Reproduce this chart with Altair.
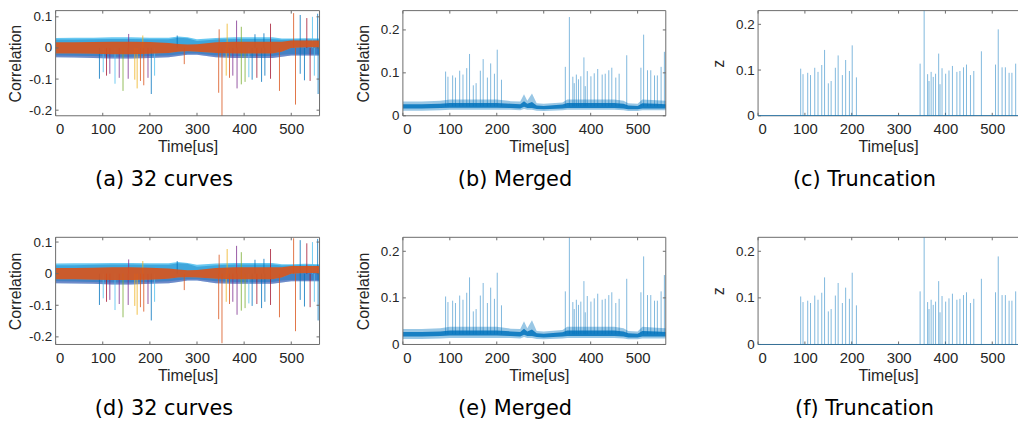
import altair as alt
import pandas as pd

# ---------------- data ----------------
TIME_MAX = 560
X_TICKS = [0, 100, 200, 300, 400, 500]
CORR_TICKS = [-0.2, -0.1, 0, 0.1]
POS_TICKS = [0, 0.1, 0.2]

COLOR_NAMES = ["blue", "orange", "yellow", "purple", "green", "cyan", "red"]
COLOR_HEX = ["#0072BD", "#D95319", "#EDB120", "#7E2F8E", "#77AC30", "#4DBEEE", "#A2142F"]

# envelope of the 32 overlaid curves
ENV_T = [0, 40, 80, 120, 160, 200, 240, 260, 280, 300, 340, 380, 420, 460, 480, 500, 530, 560]
OUT_HI = [0.032, 0.033, 0.033, 0.034, 0.034, 0.033, 0.033, 0.037, 0.034, 0.028, 0.032, 0.034, 0.034, 0.034, 0.030, 0.030, 0.031, 0.030]
OUT_LO = [-0.030, -0.031, -0.032, -0.034, -0.034, -0.032, -0.030, -0.026, -0.022, -0.022, -0.030, -0.032, -0.032, -0.032, -0.028, -0.024, -0.024, -0.024]
BLU_HI = [0.027, 0.027, 0.028, 0.029, 0.029, 0.028, 0.028, 0.033, 0.031, 0.022, 0.027, 0.029, 0.029, 0.029, 0.026, 0.027, 0.027, 0.027]
BLU_LO = [-0.024, -0.025, -0.026, -0.028, -0.028, -0.026, -0.024, -0.021, -0.018, -0.018, -0.024, -0.026, -0.026, -0.026, -0.022, -0.020, -0.020, -0.020]
CORE_HI = [0.018, 0.018, 0.019, 0.020, 0.020, 0.019, 0.016, 0.013, 0.011, 0.012, 0.018, 0.020, 0.020, 0.020, 0.020, 0.024, 0.024, 0.024]
CORE_LO = [-0.018, -0.018, -0.019, -0.020, -0.020, -0.019, -0.016, -0.012, -0.011, -0.012, -0.016, -0.018, -0.018, -0.018, -0.012, 0.000, 0.002, 0.002]

# individual spikes of the 32 curves
SPK32_T = [93, 101, 108, 115, 126, 135, 143, 154, 168, 173, 180, 187, 196, 203, 210, 155, 185, 258, 273,
           346, 353, 362, 369, 376, 385, 394, 402, 410, 417, 427, 437, 444, 456, 475, 509, 519, 528, 540, 549, 557,
           347, 364, 384, 394, 423, 442, 456, 505, 519, 533, 545, 556]
SPK32_V = [-0.099, -0.078, -0.089, -0.083, -0.115, -0.096, -0.138, -0.099, -0.102, -0.130, -0.106, -0.120, -0.096, -0.148, -0.089, 0.045, 0.040, 0.040, -0.052,
           -0.144, -0.220, -0.089, -0.096, -0.089, -0.130, -0.117, -0.109, -0.094, -0.102, -0.096, -0.109, -0.089, -0.099, -0.138, -0.182, -0.083, -0.104, -0.106, -0.089, -0.148,
           0.060, 0.078, 0.088, 0.068, 0.044, 0.047, 0.078, 0.112, 0.106, 0.096, 0.100, 0.110]
SPK32_C = ["blue", "cyan", "red", "purple", "cyan", "purple", "green", "purple", "yellow", "yellow", "orange", "orange", "purple", "blue", "cyan", "purple", "yellow", "blue", "orange",
           "orange", "orange", "yellow", "orange", "purple", "purple", "green", "green", "cyan", "blue", "red", "blue", "blue", "red", "orange", "orange", "blue", "blue", "red", "cyan", "blue",
           "orange", "yellow", "purple", "green", "blue", "blue", "red", "orange", "blue", "red", "cyan", "blue"]

# merged curve: noise floor band
MB_T = [0, 40, 80, 100, 150, 200, 230, 250, 258, 265, 275, 285, 300, 340, 350, 400, 450, 470, 480, 500, 510, 540, 560]
MB_HI = [0.033, 0.033, 0.035, 0.038, 0.038, 0.038, 0.034, 0.033, 0.050, 0.035, 0.052, 0.029, 0.028, 0.031, 0.038, 0.038, 0.038, 0.035, 0.029, 0.028, 0.038, 0.036, 0.035]
MB_LO = [0.012, 0.012, 0.013, 0.014, 0.014, 0.014, 0.014, 0.013, 0.016, 0.014, 0.014, 0.012, 0.011, 0.013, 0.014, 0.014, 0.014, 0.013, 0.011, 0.011, 0.013, 0.013, 0.013]
MC_HI = [0.027, 0.027, 0.028, 0.030, 0.030, 0.030, 0.028, 0.027, 0.034, 0.028, 0.032, 0.024, 0.023, 0.026, 0.030, 0.030, 0.030, 0.028, 0.024, 0.023, 0.029, 0.028, 0.027]
MC_LO = [0.017, 0.017, 0.018, 0.019, 0.019, 0.019, 0.018, 0.017, 0.021, 0.018, 0.018, 0.016, 0.015, 0.017, 0.018, 0.018, 0.018, 0.017, 0.015, 0.015, 0.017, 0.017, 0.017]
MERGED_FLOOR = 0.022

# peaks kept after truncation (also visible in merged curve)
PEAK_T = [91, 96, 106, 112, 121, 128, 136, 142, 150, 156, 165, 171, 180, 187, 195, 201, 210,
          346, 354.6, 362, 365, 369.5, 374, 379, 385.6, 388.5, 392.8, 400.5, 407.6, 415, 424.5, 431, 438.6, 445, 453.5, 460.6, 476.8,
          507, 512.8, 521, 528, 536, 542, 550, 557]
PEAK_Z = [0.103, 0.091, 0.094, 0.089, 0.105, 0.096, 0.111, 0.144, 0.071, 0.076, 0.105, 0.132, 0.089, 0.122, 0.098, 0.154, 0.084,
          0.114, 0.230, 0.091, 0.076, 0.096, 0.085, 0.092, 0.136, 0.069, 0.104, 0.092, 0.099, 0.109, 0.096, 0.098, 0.106, 0.112, 0.089, 0.098, 0.141,
          0.112, 0.189, 0.106, 0.106, 0.094, 0.094, 0.114, 0.149]
TRUNC_BASE_T = [0, TIME_MAX]
TRUNC_BASE_Z = [0, 0]

# ---------------- style ----------------
AX = "#6b6b6b"
TXT = "#262626"
TICK_FONT = "Liberation Sans"
CAP_FONT = "DejaVu Sans"
YLABEL = "replace(format(datum.value, '~g'), '\u2212', '-')"


def xaxis():
    return alt.Axis(values=X_TICKS, title="Time[us]", tickSize=0, domain=False, grid=False,
                    labelPadding=6, titlePadding=2, labelFontSize=15, titleFontSize=16,
                    labelColor=TXT, titleColor=TXT, labelFont=TICK_FONT, titleFont=TICK_FONT,
                    titleFontWeight="normal", format="d")


def yaxis(vals, title):
    return alt.Axis(values=vals, title=title, tickSize=0, domain=False, grid=False,
                    labelPadding=4, minExtent=28, maxExtent=28, titlePadding=4,
                    labelFontSize=13.5, titleFontSize=16, labelColor=TXT, titleColor=TXT,
                    labelFont=TICK_FONT, titleFont=TICK_FONT, titleFontWeight="normal",
                    labelExpr=YLABEL)


def make_enc(xdom, ydom, yvals, ytitle):
    def X(field):
        return alt.X(f"{field}:Q", scale=alt.Scale(domain=xdom, nice=False, zero=False), axis=xaxis())

    def Y(field):
        return alt.Y(f"{field}:Q", scale=alt.Scale(domain=ydom, nice=False, zero=False), axis=yaxis(yvals, ytitle))

    def Y2(field):
        return alt.Y2(f"{field}:Q")
    return X, Y, Y2


def frame_layers(X, Y, yvals, wf, h, right=True):
    xt = pd.DataFrame({"tk": X_TICKS})
    yt = pd.DataFrame({"vk": yvals})
    dummy = pd.DataFrame({"d": [0]})
    layers = [
        alt.Chart(xt).mark_rule(color=AX, strokeWidth=1).encode(x=X("tk"), y=alt.value(h), y2=alt.value(h - 3)),
        alt.Chart(xt).mark_rule(color=AX, strokeWidth=1).encode(x=X("tk"), y=alt.value(0), y2=alt.value(3)),
        alt.Chart(yt).mark_rule(color=AX, strokeWidth=1).encode(y=Y("vk"), x=alt.value(0), x2=alt.value(3)),
    ]
    if right:
        layers.append(alt.Chart(yt).mark_rule(color=AX, strokeWidth=1).encode(y=Y("vk"), x=alt.value(wf - 3), x2=alt.value(wf)))
        layers.append(alt.Chart(dummy).mark_rect(fillOpacity=0, stroke=AX, strokeWidth=1).encode(
            x=alt.value(0), x2=alt.value(wf), y=alt.value(0), y2=alt.value(h)))
    else:
        layers.append(alt.Chart(dummy).mark_rule(color=AX, strokeWidth=1).encode(x=alt.value(0), x2=alt.value(wf), y=alt.value(0)))
        layers.append(alt.Chart(dummy).mark_rule(color=AX, strokeWidth=1).encode(x=alt.value(0), x2=alt.value(wf), y=alt.value(h)))
        layers.append(alt.Chart(dummy).mark_rule(color=AX, strokeWidth=1).encode(x=alt.value(0), y=alt.value(0), y2=alt.value(h)))
    return layers


def caption(text):
    return alt.TitleParams(text=text, orient="bottom", anchor="middle", frame="bounds", font=CAP_FONT,
                           fontSize=21, fontWeight="normal", color="#000000", offset=15)


def panel_curves(h, ydom, cap):
    W = 266
    X, Y, Y2 = make_enc([0, TIME_MAX], ydom, CORR_TICKS, "Correlation")
    env = pd.DataFrame({"t": ENV_T, "olo": OUT_LO, "ohi": OUT_HI, "blo": BLU_LO, "bhi": BLU_HI,
                        "clo": CORE_LO, "chi": CORE_HI})
    spk = pd.DataFrame({"t": SPK32_T, "v": SPK32_V, "c": SPK32_C, "base": [0.0] * len(SPK32_T)})
    col = alt.Color("c:N", scale=alt.Scale(domain=COLOR_NAMES, range=COLOR_HEX), legend=None)
    layers = [
        alt.Chart(env).mark_area(color="#4DBEEE", opacity=0.85, clip=True).encode(x=X("t"), y=Y("olo"), y2=Y2("ohi")),
        alt.Chart(env).mark_area(color="#7E2F8E", opacity=0.4, clip=True).encode(x=X("t"), y=Y("olo"), y2=Y2("clo")),
        alt.Chart(env).mark_area(color="#0072BD", opacity=0.4, clip=True).encode(x=X("t"), y=Y("blo"), y2=Y2("bhi")),
        alt.Chart(spk).mark_rule(strokeWidth=1, opacity=0.8, clip=True).encode(x=X("t"), y=Y("base"), y2=Y2("v"), color=col),
        alt.Chart(env).mark_area(color="#D95319", opacity=0.9, clip=True).encode(x=X("t"), y=Y("clo"), y2=Y2("chi")),
    ]
    layers += frame_layers(X, Y, CORR_TICKS, W, h, right=True)
    return alt.layer(*layers, title=caption(cap)).properties(width=W, height=h)


def panel_merged(h, ydom, cap):
    W = 274
    W_FRAME = 265
    X, Y, Y2 = make_enc([0, TIME_MAX * W / W_FRAME], ydom, POS_TICKS, "Correlation")
    band = pd.DataFrame({"t": MB_T, "lo": MB_LO, "hi": MB_HI, "clo": MC_LO, "chi": MC_HI})
    pk = pd.DataFrame({"t": PEAK_T, "z": PEAK_Z, "base": [MERGED_FLOOR] * len(PEAK_T)})
    layers = [
        alt.Chart(band).mark_area(color="#0072BD", opacity=0.4, clip=True).encode(x=X("t"), y=Y("lo"), y2=Y2("hi")),
        alt.Chart(pk).mark_rule(color="#0072BD", strokeWidth=1, opacity=0.5, clip=True).encode(x=X("t"), y=Y("base"), y2=Y2("z")),
        alt.Chart(band).mark_area(color="#0072BD", opacity=0.85, clip=True).encode(x=X("t"), y=Y("clo"), y2=Y2("chi")),
    ]
    layers += frame_layers(X, Y, POS_TICKS, W_FRAME, h, right=True)
    return alt.layer(*layers, title=caption(cap)).properties(width=W, height=h)


def panel_trunc(h, ydom, cap):
    W = 262
    X, Y, Y2 = make_enc([0, 555], ydom, POS_TICKS, "z")
    pk = pd.DataFrame({"t": PEAK_T, "z": PEAK_Z, "base": [0.0] * len(PEAK_T)})
    base = pd.DataFrame({"t": TRUNC_BASE_T, "z": TRUNC_BASE_Z})
    layers = frame_layers(X, Y, POS_TICKS, W, h, right=False)
    layers += [
        alt.Chart(pk).mark_rule(color="#0072BD", strokeWidth=1, opacity=0.5, clip=True).encode(x=X("t"), y=Y("base"), y2=Y2("z")),
        alt.Chart(base).mark_line(color="#0072BD", strokeWidth=1.2, clip=True).encode(x=X("t"), y=Y("z")),
    ]
    return alt.layer(*layers, title=caption(cap)).properties(width=W, height=h)


H1 = 106
H2 = 108
pa = panel_curves(H1, [-0.218, 0.12], "(a) 32 curves")
pb = panel_merged(H1, [0, 0.245], "(b) Merged")
pc = panel_trunc(H1, [0, 0.23], "(c) Truncation")
pd_ = panel_curves(H2, [-0.224, 0.115], "(d) 32 curves")
pe = panel_merged(H2, [0, 0.23], "(e) Merged")
pf = panel_trunc(H2, [0, 0.23], "(f) Truncation")

chart = alt.concat(pa, pb, pc, pd_, pe, pf, columns=3,
                   spacing={"row": 122.5, "column": 84}, bounds="flush").configure_view(
    stroke=None).properties(padding=0, background="white")

chart.save("out.html", embed_options={"renderer": "svg", "actions": False})
